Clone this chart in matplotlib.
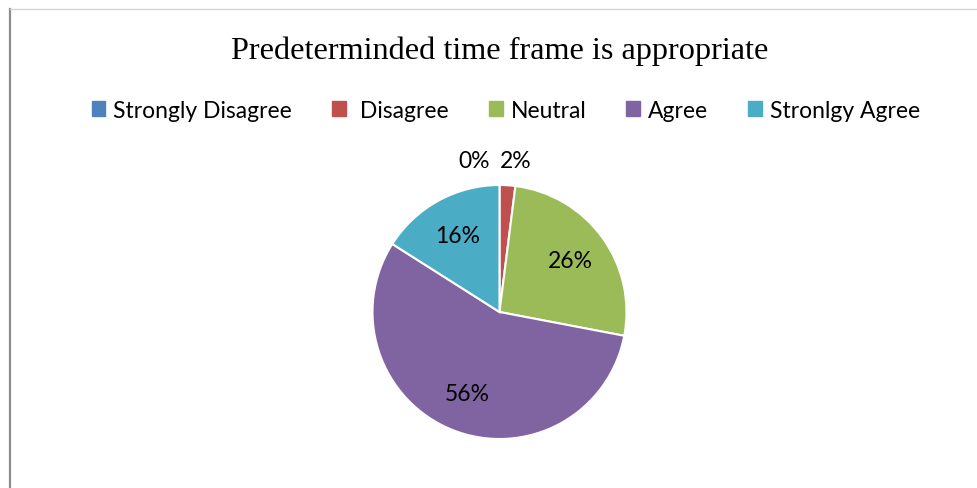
import matplotlib
matplotlib.use("Agg")
import matplotlib.pyplot as plt
from matplotlib.lines import Line2D
from matplotlib.patches import Patch
import numpy as np

title = "Predeterminded time frame is appropriate"
labels = ["Strongly Disagree", " Disagree", "Neutral", "Agree", "Stronlgy Agree"]
shares = [0, 2, 26, 56, 16]
colors = ["#4F81BD", "#C0504D", "#9BBB59", "#8064A2", "#4BACC6"]

W, H = 978, 489
fig = plt.figure(figsize=(W / 100, H / 100), dpi=100)

# chart border (left and top edges visible)
fig.add_artist(Line2D([9.5 / W, 9.5 / W], [0, 1 - 10 / H], color="#8c8c8c", lw=1.6))
fig.add_artist(Line2D([9.5 / W, 1], [1 - 10 / H, 1 - 10 / H], color="#d4d4d4", lw=1.0))

# pie axes: centre (499.5, 313) px, radius 127 px
r = 127
cx, cy = 499.5, H - 313
half = 1.3 * r
ax = fig.add_axes([(cx - half) / W, (cy - half) / H, 2 * half / W, 2 * half / H])

wedges, texts, autotexts = ax.pie(
    shares, colors=colors, startangle=90, counterclock=False,
    autopct="%1.0f%%", pctdistance=0.69, radius=1,
    wedgeprops=dict(edgecolor="white", linewidth=1.5),
    textprops=dict(family="Lato", fontsize=16.5, color="black"),
)
ax.set_xlim(-1.3, 1.3)
ax.set_ylim(-1.3, 1.3)
ax.axis("off")

# small slices get their labels above the pie
autotexts[0].set_position((-0.2, 1.19))
autotexts[1].set_position((0.13, 1.19))

fig.text(cx / W, 1 - 51 / H, title, ha="center", va="center",
         family="Liberation Serif", fontsize=23.2)

handles = [Patch(facecolor=c, edgecolor=c) for c in colors]
fig.legend(handles, labels, loc="center", bbox_to_anchor=(506 / W, 1 - 111 / H),
           ncol=5, frameon=False, prop=dict(family="Lato", size=16.5),
           handlelength=0.6, handleheight=0.6, handletextpad=0.35,
           columnspacing=1.75)

fig.savefig("out.png", dpi=100)
